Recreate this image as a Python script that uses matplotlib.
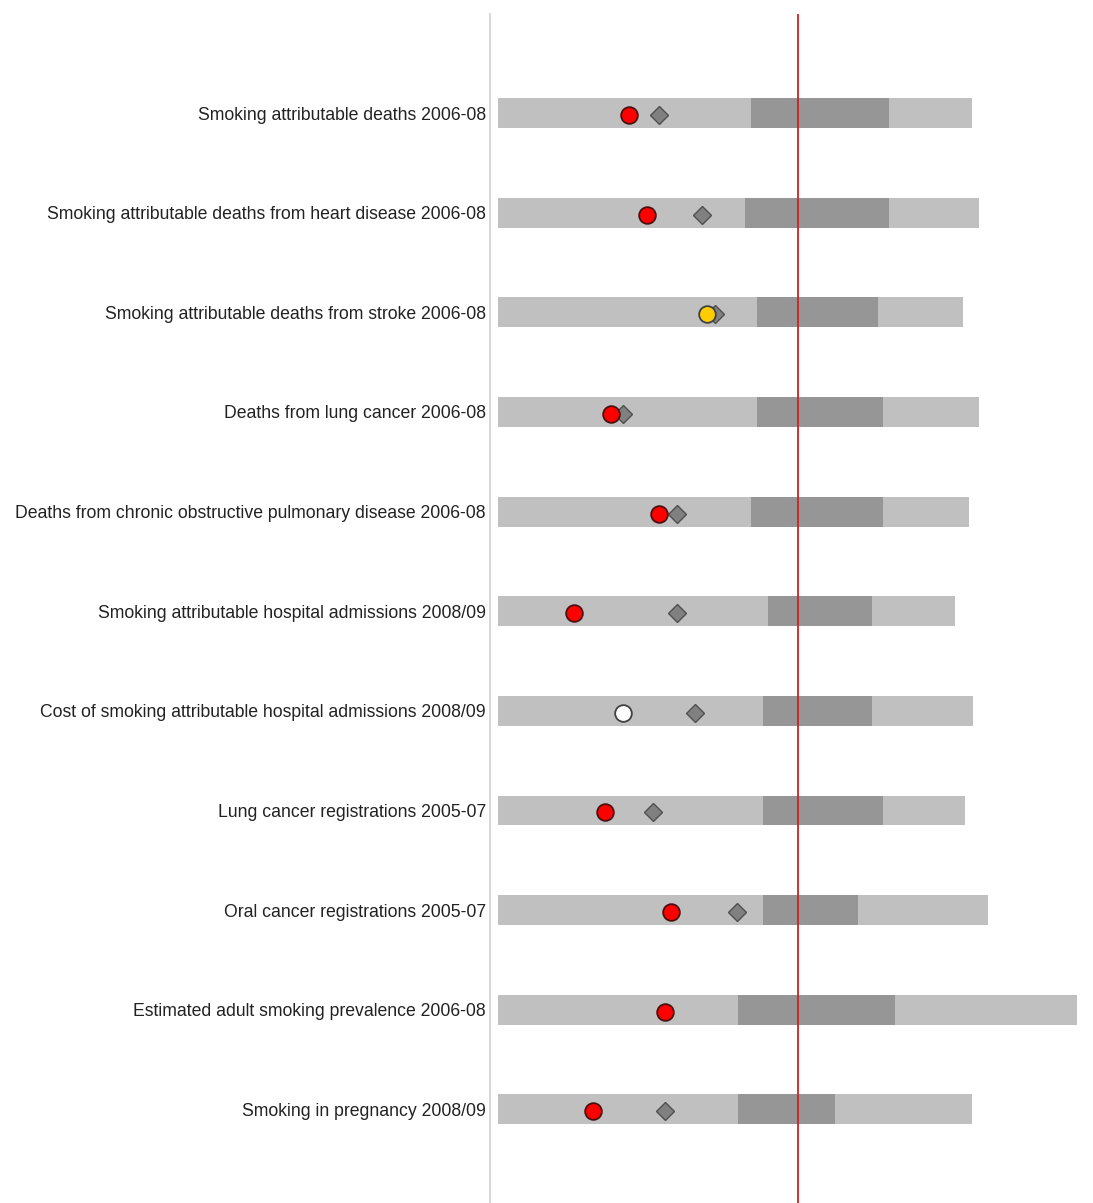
import matplotlib
matplotlib.use("Agg")
import matplotlib.pyplot as plt
import numpy as np

categories = [
    "Smoking attributable deaths 2006-08",
    "Smoking attributable deaths from heart disease 2006-08",
    "Smoking attributable deaths from stroke 2006-08",
    "Deaths from lung cancer 2006-08",
    "Deaths from chronic obstructive pulmonary disease 2006-08",
    "Smoking attributable hospital admissions 2008/09",
    "Cost of smoking attributable hospital admissions 2008/09",
    "Lung cancer registrations 2005-07",
    "Oral cancer registrations 2005-07",
    "Estimated adult smoking prevalence 2006-08",
    "Smoking in pregnancy 2008/09",
]
# spine-chart positions (0 = worst end of range, 300 = England average)
range_max = [474, 481, 465, 481, 471, 457, 475, 467, 490, 579, 474]
q25 = [253, 247, 259, 259, 253, 270, 265, 265, 265, 240, 240]
q75 = [391, 391, 380, 385, 385, 374, 374, 385, 360, 397, 337]
local_value = [131, 149, 209, 113, 161, 76, 125, 107, 173, 167, 95]
region_value = [161, 204, 217, 125, 179, 179, 197, 155, 239, None, 167]
significance = ["worse", "worse", "similar", "worse", "worse", "worse",
                "none", "worse", "worse", "worse", "worse"]
england_avg = 300

sig_colors = {"worse": "#ff0000", "similar": "#ffcc00", "none": "#ffffff"}

fig = plt.figure(figsize=(10.93, 12.03), dpi=100)
ax = fig.add_axes([490 / 1093, 0, 603 / 1093, 1189 / 1203])

y = np.arange(len(categories))
h = 0.30
ax.barh(y, range_max, height=h, left=0, color="#c0c0c0", zorder=1)
ax.barh(y, np.array(q75) - np.array(q25), height=h, left=q25, color="#969696", zorder=2)
ax.axvline(england_avg, color="#cc2222", lw=1.3, zorder=3)

for i in range(len(categories)):
    if region_value[i] is not None:
        ax.plot(region_value[i], y[i] + 0.02, marker="D", ms=9, mfc="#808080",
                mec="#505050", mew=1.0, ls="none", zorder=4)
    ax.plot(local_value[i], y[i] + 0.02, marker="o", ms=12, mfc=sig_colors[significance[i]],
            mec="#4a1010" if significance[i] == "worse" else "#404040", mew=1.3,
            ls="none", zorder=5)

ax.set_xlim(-8, 595)
ax.set_ylim(10.94, -0.994)
ax.set_xticks([])
ax.set_yticks(y)
ax.set_yticklabels(categories, fontsize=12.7, family="Liberation Sans", color="#222222")
ax.tick_params(axis="y", length=0, pad=3)
for s in ["top", "right", "bottom"]:
    ax.spines[s].set_visible(False)
ax.spines["left"].set_color("#cfcfcf")
ax.spines["left"].set_linewidth(1.2)

fig.savefig("out.png", dpi=100)
